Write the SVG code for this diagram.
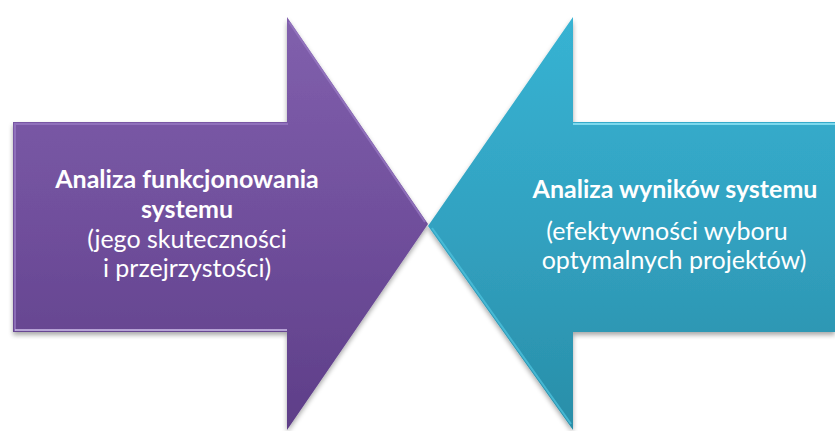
<svg xmlns="http://www.w3.org/2000/svg" width="835" height="431" viewBox="0 0 835 431">
  <defs>
    <linearGradient id="gPurple" x1="0" y1="0" x2="0" y2="1">
      <stop offset="0" stop-color="#8160ad"/>
      <stop offset="0.5" stop-color="#704f9c"/>
      <stop offset="1" stop-color="#5e3e88"/>
    </linearGradient>
    <linearGradient id="gTeal" x1="0" y1="0" x2="0" y2="1">
      <stop offset="0" stop-color="#37b3d3"/>
      <stop offset="0.5" stop-color="#32a2c1"/>
      <stop offset="1" stop-color="#298ea8"/>
    </linearGradient>
    <filter id="shadow" x="-5%" y="-5%" width="110%" height="115%">
      <feGaussianBlur in="SourceAlpha" stdDeviation="2.5"/>
      <feOffset dx="0" dy="3" result="b"/>
      <feComponentTransfer><feFuncA type="linear" slope="0.35"/></feComponentTransfer>
      <feMerge><feMergeNode/><feMergeNode in="SourceGraphic"/></feMerge>
    </filter>
    <style>
      .label { font-family: Lato, "Liberation Sans", sans-serif; fill: #ffffff; text-anchor: middle; font-size: 25px; }
      .small { font-size: 24px; }
      .bold { font-weight: bold; }
      .bevel { fill: none; stroke-width: 2; stroke-linejoin: miter; }
    </style>
  </defs>

  <!-- left arrow: system operation analysis -->
  <g id="arrow-left">
    <path d="M13,122 L287,122 L287,17 L428,224 L287,430 L287,332 L13,332 Z" fill="url(#gPurple)" filter="url(#shadow)"/>
    <path class="bevel" d="M15,331 L15,124 L288,124 M289,22 L425,222" stroke="#9a7cc4" stroke-opacity="0.7"/>
    <path class="bevel" d="M15,330 L287,330" stroke="#c9b8e6" stroke-opacity="0.8"/>
    <text class="label bold" x="187" y="188">Analiza funkcjonowania</text>
    <text class="label bold" x="187" y="218">systemu</text>
    <text class="label" x="187" y="248">(jego skuteczności</text>
    <text class="label" x="187" y="277">i przejrzystości)</text>
  </g>

  <!-- right arrow: system results analysis -->
  <g id="arrow-right">
    <path d="M835,122 L573,122 L573,17 L428,226 L573,430 L573,332 L835,332 Z" fill="url(#gTeal)" filter="url(#shadow)"/>
    <path class="bevel" d="M573,124 L835,124" stroke="#8fe4f5" stroke-opacity="0.8"/>
    <path class="bevel" d="M432,228 L571,424" stroke="#4cc0dc" stroke-opacity="0.8"/>
    <text class="label bold" x="675" y="198">Analiza wyników systemu</text>
    <text class="label" x="667" y="240">(efektywności wyboru</text>
    <text class="label" x="674" y="269">optymalnych projektów)</text>
  </g>
</svg>
